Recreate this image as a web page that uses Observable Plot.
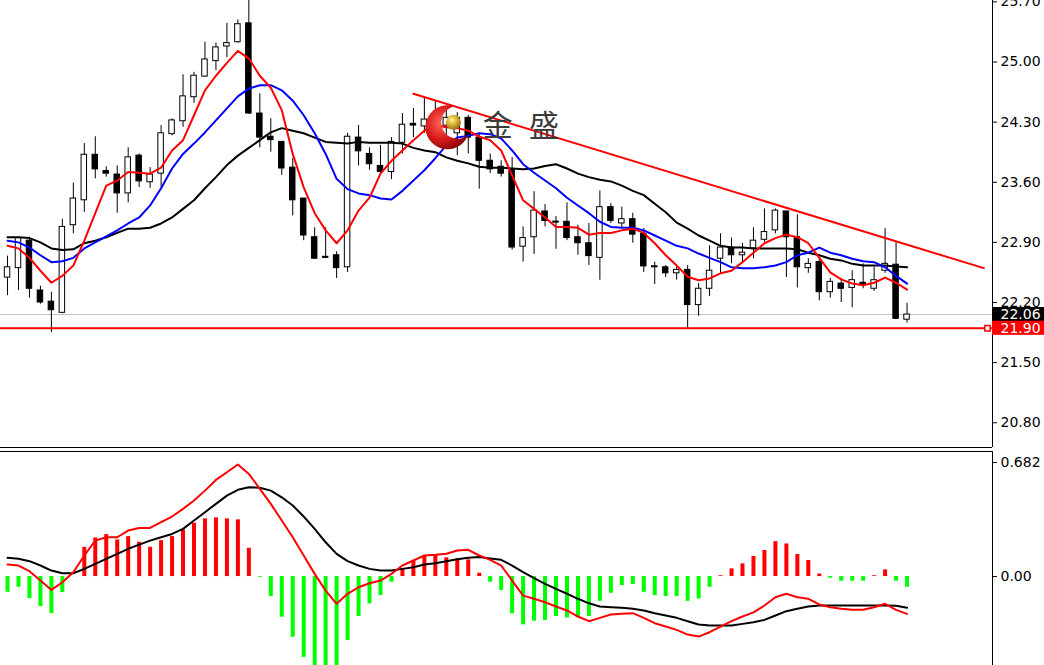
<!DOCTYPE html>
<html>
<head>
<meta charset="utf-8">
<script src="https://cdn.jsdelivr.net/npm/d3@7"></script>
<script src="https://cdn.jsdelivr.net/npm/@observablehq/plot@0.6"></script>
<style>
html, body { margin: 0; padding: 0; background: #fff; overflow: hidden; }
#chart svg { display: block; }
</style>
</head>
<body>
<div id="chart"></div>
<script>
// ---------- price candles (bar index 0..82) ----------
const open  = [22.49,22.60,22.92,22.34,22.21,22.08,23.10,23.39,23.92,23.73,
               23.69,23.47,23.91,23.60,23.70,24.16,24.31,24.59,24.83,25.01,
               25.18,25.23,25.45,24.40,24.13,24.07,23.77,23.41,22.96,22.73,
               22.75,22.61,24.12,23.93,23.79,23.72,24.06,24.28,24.25,24.24,
               24.26,24.17,24.35,24.12,23.85,23.78,23.74,22.85,22.96,23.26,
               23.14,23.14,22.96,22.89,22.72,23.31,23.12,23.17,23.00,22.61,
               22.61,22.54,22.58,22.17,22.36,22.71,22.84,22.75,22.83,22.93,
               23.04,23.26,22.96,22.60,22.67,22.32,22.42,22.37,22.43,22.36,
               22.57,22.64,22.00];
const high  = [22.74,22.96,22.96,22.39,22.32,23.17,23.59,24.05,24.13,23.78,
               23.79,24.00,23.93,23.77,24.26,24.34,24.85,24.88,25.23,25.22,
               25.45,25.49,25.78,24.63,24.34,24.07,23.88,23.41,23.07,23.07,
               22.79,24.17,24.26,24.00,24.03,24.12,24.40,24.46,24.59,24.55,
               24.44,24.41,24.38,24.17,23.93,23.85,23.89,23.08,23.49,23.34,
               23.20,23.36,23.10,23.12,23.50,23.35,23.31,23.24,23.06,22.67,
               22.63,22.62,22.63,22.42,22.86,23.00,22.95,22.89,23.07,23.29,
               23.29,23.26,23.22,22.71,22.71,22.48,22.48,22.57,22.65,22.61,
               23.06,22.90,22.19];
const low   = [22.28,22.34,22.25,22.18,21.85,22.07,23.00,23.25,23.64,23.66,
               23.24,23.36,23.54,23.53,23.54,24.14,24.24,24.52,24.82,24.90,
               25.05,25.22,24.39,24.00,23.95,23.68,23.21,22.92,22.70,22.71,
               22.48,22.55,23.79,23.74,23.70,23.63,23.93,24.12,24.17,24.09,
               24.12,23.91,23.93,23.52,23.70,23.66,22.81,22.67,22.76,23.08,
               22.82,22.92,22.75,22.63,22.46,23.12,23.06,22.89,22.55,22.41,
               22.49,22.46,21.90,22.04,22.27,22.54,22.65,22.67,22.71,22.90,
               23.00,22.49,22.37,22.54,22.22,22.25,22.20,22.14,22.36,22.33,
               22.54,22.00,21.96];
const close = [22.61,22.95,22.36,22.20,22.11,23.08,23.41,23.92,23.75,23.70,
               23.47,23.89,23.61,23.69,24.17,24.32,24.60,24.84,25.03,25.17,
               25.22,25.44,24.40,24.12,24.09,23.76,23.39,22.98,22.71,22.72,
               22.60,24.13,23.96,23.81,23.72,24.07,24.27,24.26,24.33,24.34,
               24.35,24.35,24.12,23.85,23.75,23.70,22.84,22.95,23.27,23.15,
               23.13,22.95,22.89,22.74,23.31,23.15,23.17,22.99,22.62,22.61,
               22.54,22.58,22.17,22.36,22.57,22.84,22.75,22.78,22.92,23.02,
               23.27,22.96,22.61,22.65,22.32,22.44,22.36,22.46,22.40,22.46,
               22.65,22.01,22.06];

// ---------- moving averages (red fast, blue middle, black slow) ----------
const maFast = [22.86,22.83,22.72,22.57,22.43,22.51,22.63,22.92,23.24,23.56,
                23.62,23.72,23.71,23.70,23.77,23.97,24.09,24.38,24.67,24.84,
                24.99,25.13,25.04,24.84,24.70,24.44,23.93,23.54,23.24,23.04,
                22.89,23.04,23.27,23.42,23.70,23.85,23.97,24.09,24.20,24.27,
                24.24,24.23,24.20,24.13,24.09,23.97,23.68,23.39,23.29,23.19,
                23.08,23.08,23.07,22.99,23.01,23.01,23.04,23.06,23.01,22.89,
                22.75,22.63,22.50,22.46,22.48,22.54,22.57,22.67,22.78,22.89,
                22.95,22.99,22.96,22.89,22.72,22.55,22.47,22.42,22.40,22.43,
                22.49,22.43,22.35];
const maMid  = [22.92,22.90,22.84,22.75,22.67,22.68,22.72,22.83,22.90,22.97,
                23.04,23.12,23.19,23.33,23.53,23.76,23.93,24.05,24.18,24.32,
                24.46,24.60,24.69,24.73,24.73,24.67,24.55,24.38,24.17,23.93,
                23.64,23.52,23.47,23.45,23.41,23.40,23.50,23.62,23.74,23.88,
                24.03,24.12,24.14,24.17,24.16,24.11,23.97,23.81,23.71,23.62,
                23.53,23.42,23.33,23.24,23.14,23.08,23.07,23.07,23.04,22.98,
                22.92,22.86,22.83,22.77,22.72,22.67,22.61,22.60,22.60,22.61,
                22.63,22.67,22.75,22.78,22.84,22.78,22.75,22.71,22.68,22.67,
                22.61,22.51,22.42];
const maSlow = [22.96,22.96,22.95,22.90,22.83,22.81,22.82,22.89,22.92,22.96,
                23.01,23.06,23.06,23.07,23.12,23.19,23.29,23.39,23.53,23.66,
                23.80,23.91,24.00,24.09,24.18,24.23,24.20,24.17,24.12,24.07,
                24.06,24.05,24.07,24.06,24.06,24.06,24.05,24.00,23.97,23.95,
                23.89,23.85,23.82,23.78,23.77,23.77,23.76,23.75,23.76,23.79,
                23.81,23.76,23.70,23.66,23.63,23.61,23.56,23.50,23.45,23.35,
                23.25,23.13,23.06,22.98,22.92,22.86,22.84,22.84,22.83,22.83,
                22.83,22.83,22.82,22.78,22.75,22.71,22.69,22.65,22.63,22.63,
                22.63,22.62,22.61];

// ---------- MACD panel ----------
const macdHist   = [-0.094,-0.064,-0.132,-0.179,-0.221,-0.096,0,0.175,0.231,0.251,
                    0.219,0.239,0.205,0.175,0.215,0.239,0.279,0.319,0.345,0.351,
                    0.345,0.339,0.169,-0.005,-0.120,-0.243,-0.363,-0.483,-0.58,-0.60,
                    -0.56,-0.383,-0.239,-0.163,-0.114,-0.034,0.046,0.092,0.126,0.126,
                    0.112,0.106,0.100,0.020,-0.034,-0.084,-0.223,-0.289,-0.267,-0.263,
                    -0.239,-0.247,-0.247,-0.239,-0.148,-0.100,-0.054,-0.048,-0.094,-0.114,
                    -0.120,-0.120,-0.148,-0.134,-0.064,0.005,0.046,0.076,0.120,0.156,
                    0.209,0.195,0.132,0.096,0.015,-0.010,-0.028,-0.028,-0.028,0.005,
                    0.040,-0.028,-0.064];
const macdLine   = [0.072,0.066,0.032,-0.024,-0.080,-0.034,0.026,0.126,0.215,0.235,
                    0.235,0.275,0.291,0.291,0.325,0.359,0.405,0.455,0.514,0.578,
                    0.624,0.670,0.614,0.525,0.435,0.335,0.235,0.126,0.016,-0.084,
                    -0.163,-0.103,-0.064,-0.040,-0.024,0.016,0.066,0.096,0.126,0.130,
                    0.136,0.156,0.160,0.126,0.100,0.066,-0.024,-0.114,-0.133,-0.154,
                    -0.179,-0.203,-0.239,-0.267,-0.247,-0.227,-0.223,-0.219,-0.247,-0.279,
                    -0.299,-0.319,-0.347,-0.359,-0.333,-0.299,-0.267,-0.239,-0.214,-0.173,
                    -0.124,-0.103,-0.124,-0.133,-0.167,-0.184,-0.193,-0.199,-0.199,-0.184,
                    -0.163,-0.199,-0.223];
const macdSignal = [0.112,0.106,0.092,0.066,0.036,0.020,0.020,0.046,0.076,0.106,
                    0.136,0.166,0.191,0.215,0.235,0.255,0.285,0.335,0.385,0.435,
                    0.484,0.519,0.534,0.531,0.514,0.474,0.425,0.359,0.285,0.205,
                    0.136,0.092,0.066,0.046,0.036,0.036,0.046,0.056,0.072,0.080,
                    0.092,0.103,0.112,0.117,0.108,0.100,0.066,0.026,-0.010,-0.044,
                    -0.074,-0.103,-0.133,-0.160,-0.179,-0.183,-0.187,-0.193,-0.203,-0.219,
                    -0.233,-0.247,-0.267,-0.287,-0.293,-0.293,-0.293,-0.283,-0.273,-0.259,
                    -0.233,-0.207,-0.193,-0.179,-0.173,-0.173,-0.173,-0.173,-0.173,-0.173,
                    -0.173,-0.175,-0.187];

// ---------- axes, levels, annotations ----------
const priceTicks = [25.70, 25.00, 24.30, 23.60, 22.90, 22.20, 21.50, 20.80];
const macdTicks  = [0.682, 0];
const trendLine  = [{i: 37, p: 24.63}, {i: 89, p: 22.60}];
const supportLevel = 21.90;
const bidPrice = 22.06;
const priceTags = [
  {p: 22.06, label: "22.06", bg: "#000000"},
  {p: 21.90, label: "21.90", bg: "#ff0000"}
];
const logoAnchor = [{i: 40.1, p: 24.24}];
const logoText = [{i: 44.7, p: 24.25, t: "金"}, {i: 48.9, p: 24.25, t: "盛"}];

// ---------- scales ----------
const xDomain = [-0.64, 89.79];
const yDomain = [20.512, 25.716];
const mDomain = [-0.532, 0.748];

const bars = close.map((c, i) => ({
  i, o: open[i], h: high[i], l: low[i], c,
  mf: maFast[i], mm: maMid[i], ms: maSlow[i],
  hist: macdHist[i], macd: macdLine[i], sig: macdSignal[i]
}));

// crescent symbol for the logo
const crescent = {
  draw(context, size) {
    const R = Math.sqrt(size / Math.PI);
    const r = R * 0.74;
    const ox = R * 0.46, oy = -R * 0.22;
    const d = Math.hypot(ox, oy);
    const a = (R * R - r * r + d * d) / (2 * d);
    const h = Math.sqrt(R * R - a * a);
    const tu = Math.atan2(oy, ox);
    const g = Math.atan2(h, a);
    const e = Math.atan2(h, d - a);
    context.moveTo(R * Math.cos(tu + g), R * Math.sin(tu + g));
    context.arc(0, 0, R, tu + g, tu - g + 2 * Math.PI, false);
    context.arc(ox, oy, r, tu + Math.PI + e, tu + Math.PI - e, true);
    context.closePath();
  }
};

const axisFont = {fontFamily: "DejaVu Sans", fontSize: "14px", background: "white"};

const main = Plot.plot({
  width: 1044, height: 449,
  marginLeft: 0, marginRight: 52, marginTop: 0, marginBottom: 2,
  x: {domain: xDomain, axis: null},
  y: {domain: yDomain, axis: null},
  color: {type: "identity"},
  style: axisFont,
  marks: [
    Plot.ruleY([bidPrice], {stroke: "#c0c0c0", strokeWidth: 1}),
    Plot.ruleX(bars, {x: "i", y1: "l", y2: "h", stroke: "#000", strokeWidth: 1}),
    Plot.rect(bars, {
      x1: d => d.i - 0.25, x2: d => d.i + 0.25,
      y1: d => Math.min(d.o, d.c),
      y2: d => Math.max(d.o, d.c, Math.min(d.o, d.c) + 0.012),
      fill: d => d.c >= d.o ? "#ffffff" : "#000000",
      stroke: "#000", strokeWidth: 1
    }),
    Plot.line(bars, {x: "i", y: "ms", stroke: "#000000", strokeWidth: 2}),
    Plot.line(bars, {x: "i", y: "mm", stroke: "#0000ff", strokeWidth: 2}),
    Plot.line(bars, {x: "i", y: "mf", stroke: "#ff0000", strokeWidth: 2}),
    Plot.line(trendLine, {x: "i", y: "p", stroke: "#ff0000", strokeWidth: 2}),
    Plot.ruleY([supportLevel], {stroke: "#ff0000", strokeWidth: 2}),
    Plot.dot([supportLevel], {x: () => xDomain[1], y: d => d, dx: -5, symbol: "square", r: 3,
      stroke: "#ff0000", fill: "#ffffff", strokeWidth: 1.5}),
    // logo
    Plot.dot(logoAnchor, {x: "i", y: "p", r: 22, symbol: crescent, fill: "url(#moonGrad)"}),
    Plot.dot(logoAnchor, {x: "i", y: "p", r: 7.5, dx: 6, dy: -5, fill: "url(#ballGrad)"}),
    Plot.text(logoText, {x: "i", y: "p", text: "t", fontSize: 30,
      fontFamily: "Noto Sans CJK SC", fill: "#3a3a3a"}),
    // frame lines
    Plot.ruleX([xDomain[1]], {stroke: "#000", strokeWidth: 1}),
    Plot.ruleY([yDomain[0]], {stroke: "#000", strokeWidth: 1}),
    Plot.axisY(priceTicks, {anchor: "right", tickSize: 4, tickPadding: 4,
      tickFormat: d3.format(".2f"), fill: "#000"}),
    // price tags
    Plot.rect(priceTags, {x1: () => xDomain[1], x2: () => xDomain[1] + 6,
      y1: d => d.p - 0.082, y2: d => d.p + 0.082, fill: "bg"}),
    Plot.text(priceTags, {x: () => xDomain[1], y: "p", text: "label", dx: 8,
      textAnchor: "start", fill: "#ffffff"})
  ]
});

const defs = document.createElementNS("http://www.w3.org/2000/svg", "defs");
defs.innerHTML =
  '<radialGradient id="moonGrad" cx="38%" cy="40%" r="70%">' +
  '<stop offset="0" stop-color="#ff6a5a"/><stop offset="0.55" stop-color="#d81818"/>' +
  '<stop offset="1" stop-color="#7a0505"/></radialGradient>' +
  '<radialGradient id="ballGrad" cx="40%" cy="35%" r="70%">' +
  '<stop offset="0" stop-color="#fff2a0"/><stop offset="0.5" stop-color="#d9ae2a"/>' +
  '<stop offset="1" stop-color="#8a6a10"/></radialGradient>';
main.insertBefore(defs, main.firstChild);

const macd = Plot.plot({
  width: 1044, height: 216,
  marginLeft: 0, marginRight: 52, marginTop: 2, marginBottom: 0,
  x: {domain: xDomain, axis: null},
  y: {domain: mDomain, axis: null},
  color: {type: "identity"},
  style: axisFont,
  marks: [
    Plot.ruleX(bars, {x: "i", y1: 0, y2: "hist", strokeWidth: 4,
      stroke: d => d.hist >= 0 ? "#ff0000" : "#00ff00"}),
    Plot.line(bars, {x: "i", y: "sig", stroke: "#000000", strokeWidth: 2}),
    Plot.line(bars, {x: "i", y: "macd", stroke: "#ff0000", strokeWidth: 2}),
    Plot.ruleX([xDomain[1]], {stroke: "#000", strokeWidth: 1}),
    Plot.ruleY([mDomain[1]], {stroke: "#000", strokeWidth: 1}),
    Plot.axisY(macdTicks, {anchor: "right", tickSize: 4, tickPadding: 4,
      tickFormat: d => d === 0 ? "0.00" : d3.format(".3f")(d), fill: "#000"})
  ]
});

const root = document.getElementById("chart");
root.appendChild(main);
root.appendChild(macd);
</script>
</body>
</html>
